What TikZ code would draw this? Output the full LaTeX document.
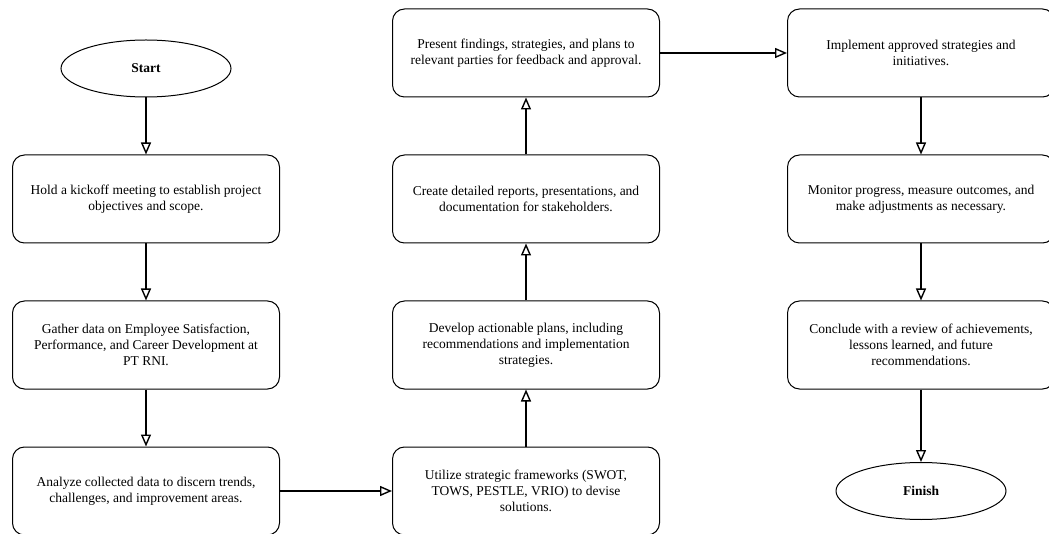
\documentclass[tikz,border=0pt]{standalone}
\usepackage{fontspec}
\setmainfont{Liberation Serif}
\usetikzlibrary{arrows.meta,shapes.geometric}
\begin{document}
\begin{tikzpicture}[x=1pt,y=-1pt,
  box/.style={draw, line width=1pt, rounded corners=12pt, minimum width=267pt, minimum height=88pt,
    align=center, font=\fontsize{13.5}{16}\selectfont, inner sep=0pt},
  term/.style={draw, ellipse, line width=1pt, minimum width=170pt, minimum height=57pt,
    font=\bfseries\fontsize{13.5}{16}\selectfont},
  flow/.style={line width=2pt, -{Triangle[open,length=12pt,width=10pt,line width=1.4pt]}}]
\useasboundingbox (0,0) rectangle (1049,534);
\node[term] (start) at (146,68.5) {Start};
\node[box] (b1) at (146,199) {Hold a kickoff meeting to establish project\\objectives and scope.};
\node[box] (b2) at (146,345) {Gather data on Employee Satisfaction,\\Performance, and Career Development at\\PT RNI.};
\node[box] (b3) at (146,491) {Analyze collected data to discern trends,\\challenges, and improvement areas.};
\node[box] (b4) at (526,491) {Utilize strategic frameworks (SWOT,\\TOWS, PESTLE, VRIO) to devise\\solutions.};
\node[box] (b5) at (526,345) {Develop actionable plans, including\\recommendations and implementation\\strategies.};
\node[box] (b6) at (526,199) {Create detailed reports, presentations, and\\documentation for stakeholders.};
\node[box] (b7) at (526,53) {Present findings, strategies, and plans to\\relevant parties for feedback and approval.};
\node[box] (b8) at (921,53) {Implement approved strategies and\\initiatives.};
\node[box] (b9) at (921,199) {Monitor progress, measure outcomes, and\\make adjustments as necessary.};
\node[box] (b10) at (921,345) {Conclude with a review of achievements,\\lessons learned, and future\\recommendations.};
\node[term] (finish) at (921,491) {Finish};
\draw[flow] (start) -- (b1);
\draw[flow] (b1) -- (b2);
\draw[flow] (b2) -- (b3);
\draw[flow] (b3) -- (b4);
\draw[flow] (b4) -- (b5);
\draw[flow] (b5) -- (b6);
\draw[flow] (b6) -- (b7);
\draw[flow] (b7) -- (b8);
\draw[flow] (b8) -- (b9);
\draw[flow] (b9) -- (b10);
\draw[flow] (b10) -- (finish);
\end{tikzpicture}
\end{document}
